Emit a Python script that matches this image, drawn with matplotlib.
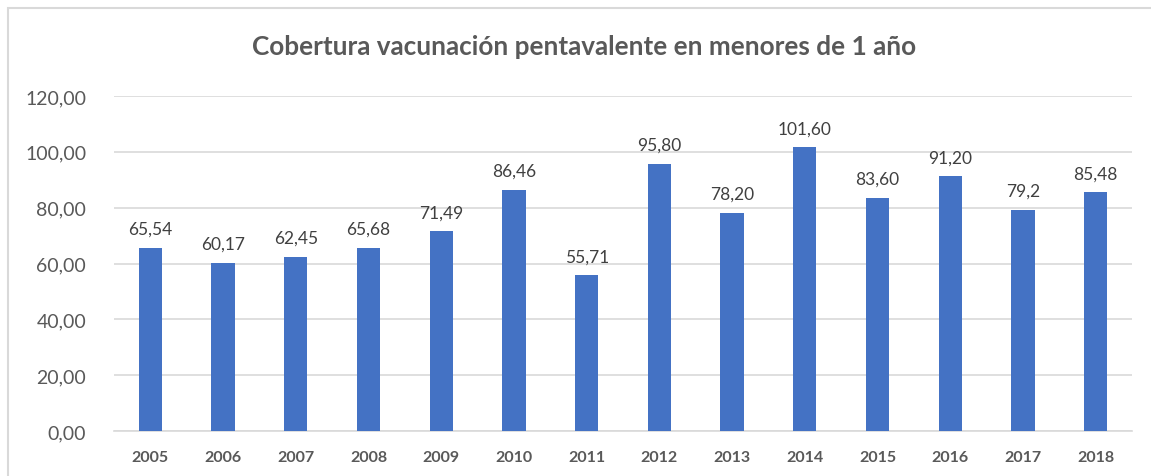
import numpy as np
import matplotlib
matplotlib.use("Agg")
import matplotlib.pyplot as plt
from matplotlib.patches import Rectangle

# === Datos ===
anios = ["2005", "2006", "2007", "2008", "2009", "2010", "2011",
         "2012", "2013", "2014", "2015", "2016", "2017", "2018"]
cobertura = [65.54, 60.17, 62.45, 65.68, 71.49, 86.46, 55.71,
             95.80, 78.20, 101.60, 83.60, 91.20, 79.2, 85.48]
etiquetas = ["65,54", "60,17", "62,45", "65,68", "71,49", "86,46", "55,71",
             "95,80", "78,20", "101,60", "83,60", "91,20", "79,2", "85,48"]
titulo = "Cobertura vacunación pentavalente en menores de 1 año"

plt.rcParams['font.family'] = ['Lato', 'DejaVu Sans']

fig = plt.figure(figsize=(11.51, 4.77), dpi=100)
ax = fig.add_axes([114 / 1151, 1 - 432 / 477, (1132 - 114) / 1151, (432 - 97) / 477])

x = np.arange(len(anios))
ax.bar(x, cobertura, width=0.32, color='#4472C4', zorder=3)
for xi, v, t in zip(x, cobertura, etiquetas):
    ax.text(xi, v + 4, t, ha='center', va='bottom', fontsize=12.5, color='#404040')

ax.set_xlim(-0.5, len(anios) - 0.5)
ax.set_ylim(0, 120)
ax.set_yticks(np.arange(0, 121, 20))
ax.set_yticklabels([f"{v:.2f}".replace('.', ',') for v in np.arange(0, 121, 20)],
                   fontsize=14, color='#595959')
ax.set_xticks(x)
ax.set_xticklabels(anios, fontsize=11.5, fontweight='bold', color='#595959')
ax.tick_params(length=0, axis='y', pad=20)
ax.tick_params(length=0, axis='x', pad=14)
ax.grid(axis='y', color='#D9D9D9', linewidth=1.2, zorder=0)
for s in ['top', 'right', 'left']:
    ax.spines[s].set_visible(False)
ax.spines['bottom'].set_color('#D9D9D9')
ax.spines['bottom'].set_linewidth(1.2)

fig.text(584 / 1151, 1 - 47 / 477, titulo, ha='center', va='center',
         fontsize=18.8, fontweight='bold', color='#595959')

# borde del gráfico
fig.patches.append(Rectangle((8 / 1151, -0.1), 1.2, 1 - 9 / 477 + 0.1,
                             transform=fig.transFigure, fill=False,
                             edgecolor='#D9D9D9', linewidth=1.5))

fig.savefig("out.png", dpi=100)
